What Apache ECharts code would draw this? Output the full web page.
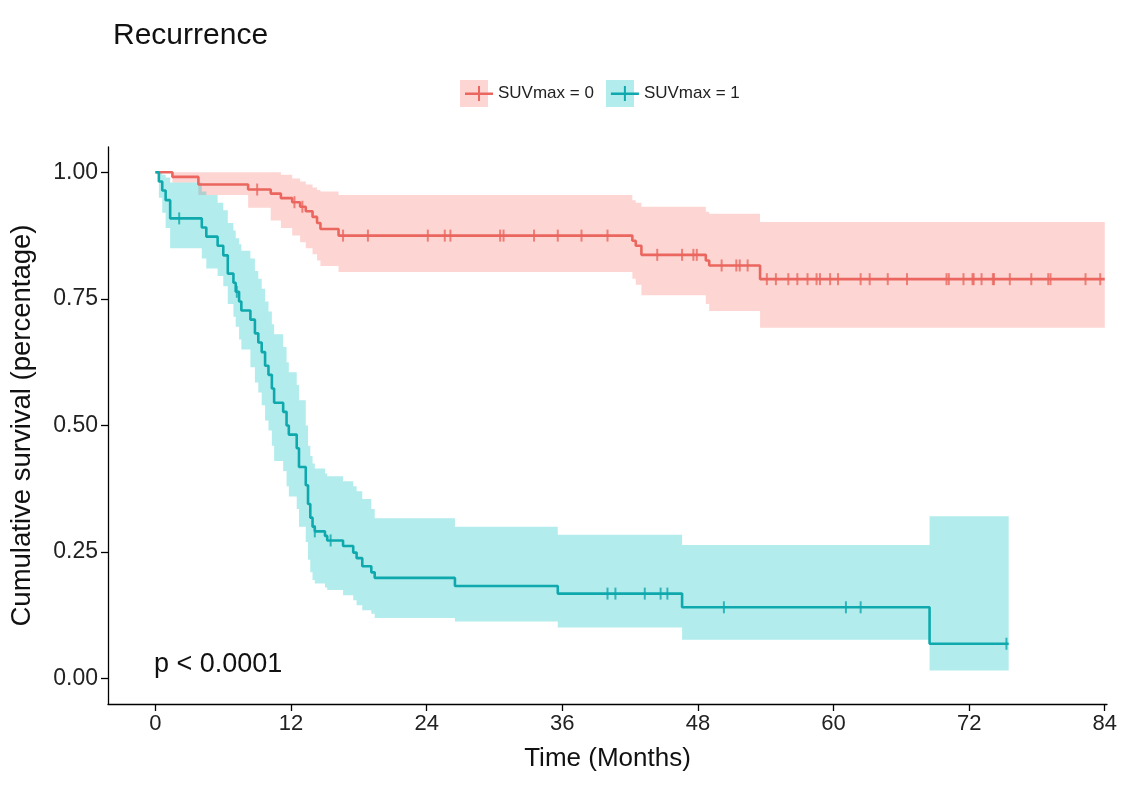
<!DOCTYPE html>
<html>
<head>
<meta charset="utf-8">
<script src="https://cdn.jsdelivr.net/npm/echarts@6/dist/echarts.min.js"></script>
<style>
  html, body { margin: 0; padding: 0; background: #fff; }
  #chart { width: 1129px; height: 788px; }
</style>
</head>
<body>
<div id="chart"></div>
<script>
const xTicks = [0, 12, 24, 36, 48, 60, 72, 84]
const yTicks = [0, 0.25, 0.5, 0.75, 1]
const groupNames = ['SUVmax = 0', 'SUVmax = 1']

// SUVmax = 0 : event times, survival after event, CI band
const lowTimes = [0, 1.5, 3.8, 8.2, 10.2, 11.1, 12.1, 12.8, 13.3, 13.9, 14.3, 14.6, 16.2, 42.2, 42.5, 43.0, 48.7, 49.0, 53.5, 84]
const lowSurv = [1, 0.991, 0.976, 0.966, 0.958, 0.949, 0.941, 0.932, 0.923, 0.912, 0.900, 0.888, 0.875, 0.865, 0.855, 0.837, 0.826, 0.816, 0.789, 0.789]
const lowUpper = [1, 1, 1, 1, 1, 0.995, 0.988, 0.982, 0.976, 0.970, 0.965, 0.962, 0.955, 0.945, 0.940, 0.932, 0.922, 0.918, 0.902, 0.902]
const lowLower = [1, 0.98, 0.955, 0.93, 0.905, 0.89, 0.875, 0.862, 0.85, 0.838, 0.826, 0.815, 0.803, 0.79, 0.778, 0.757, 0.74, 0.726, 0.693, 0.693]
const lowCensor = [9.0, 12.3, 13.0, 16.6, 18.8, 24.1, 25.6, 26.1, 30.5, 30.8, 33.5, 35.6, 37.7, 40.0, 44.4, 46.6, 47.6, 47.9,
  50.1, 51.4, 51.7, 52.4, 54.1, 54.9, 56.0, 56.8, 57.7, 58.5, 58.8, 59.7, 60.4, 62.4, 63.2, 64.8, 66.5, 70.0, 70.2,
  71.5, 72.3, 72.4, 73.1, 74.1, 74.2, 75.6, 77.5, 79.0, 79.2, 82.3, 83.6]

// SUVmax = 1
const highTimes = [0, 0.3, 0.6, 0.9, 1.3, 4.1, 4.5, 5.5, 6.0, 6.4, 6.9, 7.1, 7.4, 7.6, 8.4, 8.8, 9.1, 9.4, 9.7, 10.0, 10.3, 10.5,
  11.3, 11.6, 11.8, 12.5, 12.7, 13.3, 13.5, 13.7, 13.9, 14.1, 15.0, 15.2, 16.6, 17.5, 17.8, 18.3, 19.1, 19.4, 26.5, 35.6, 46.6, 68.5, 75.5]
const highSurv = [1, 0.982, 0.964, 0.945, 0.909, 0.891, 0.873, 0.855, 0.836, 0.800, 0.782, 0.764, 0.745, 0.727, 0.709, 0.682, 0.664, 0.645, 0.618, 0.600, 0.573, 0.545,
  0.527, 0.500, 0.482, 0.455, 0.418, 0.382, 0.345, 0.318, 0.300, 0.291, 0.282, 0.273, 0.262, 0.249, 0.238, 0.222, 0.210, 0.199, 0.183, 0.168, 0.141, 0.069, 0.069]
const highUpper = [1, 1, 0.995, 0.99, 0.98, 0.962, 0.955, 0.94, 0.925, 0.9, 0.885, 0.87, 0.858, 0.845, 0.83, 0.805, 0.79, 0.77, 0.745, 0.725, 0.70, 0.68,
  0.655, 0.625, 0.605, 0.58, 0.55, 0.50, 0.46, 0.44, 0.425, 0.415, 0.405, 0.40, 0.39, 0.38, 0.37, 0.355, 0.335, 0.317, 0.300, 0.284, 0.264, 0.321, 0.321]
const highLower = [1, 0.95, 0.92, 0.89, 0.85, 0.83, 0.81, 0.795, 0.775, 0.74, 0.715, 0.695, 0.67, 0.65, 0.615, 0.585, 0.565, 0.54, 0.51, 0.49, 0.46, 0.43,
  0.41, 0.38, 0.36, 0.335, 0.30, 0.27, 0.235, 0.21, 0.195, 0.188, 0.18, 0.175, 0.165, 0.155, 0.145, 0.135, 0.128, 0.12, 0.113, 0.101, 0.077, 0.016, 0.016]
const highCensor = [2.1, 7.2, 14.1, 15.5, 40.0, 40.7, 43.3, 44.7, 45.3, 50.3, 61.1, 62.4, 75.3]

const lineColors = ['#EA665F', '#0FA9AD']
const bandColors = ['rgba(248, 118, 109, 0.3)', 'rgba(0, 191, 196, 0.3)']
const textFont = 'Liberation Sans, Arial, sans-serif'

function survAt(times, surv, t) {
  let v = surv[0]
  for (let i = 0; i < times.length; i++) {
    if (times[i] <= t) v = surv[i]
  }
  return v
}

// confidence band as one stepped polygon, placed through the axes
function bandSeries(times, upper, lower, idx) {
  return {
    type: 'custom',
    silent: true,
    z: 1,
    data: [[times[0], upper[0]]],
    renderItem: (params, api) => {
      const top = []
      const bottom = []
      for (let i = 0; i < times.length; i++) {
        top.push(api.coord([times[i], upper[i]]))
        bottom.push(api.coord([times[i], lower[i]]))
        if (i + 1 < times.length) {
          top.push(api.coord([times[i + 1], upper[i]]))
          bottom.push(api.coord([times[i + 1], lower[i]]))
        }
      }
      return {
        type: 'polygon',
        shape: { points: top.concat(bottom.reverse()) },
        style: { fill: bandColors[idx] }
      }
    }
  }
}

function curveSeries(times, surv, idx) {
  return {
    name: groupNames[idx],
    type: 'line',
    step: 'end',
    symbol: 'none',
    z: 3,
    color: lineColors[idx],
    lineStyle: { color: lineColors[idx], width: 2.6 },
    data: times.map((t, i) => [t, surv[i]])
  }
}

function censorSeries(times, surv, censor, idx) {
  return {
    type: 'scatter',
    symbol: 'rect',
    symbolSize: [2, 12],
    z: 4,
    silent: true,
    itemStyle: { color: lineColors[idx] },
    data: censor.map((t) => [t, survAt(times, surv, t)])
  }
}

const legendIcon = 'path://M0,12.5h28v2.6h-28z M13,6h2v15h-2z'

const chart = echarts.init(document.getElementById('chart'), null, { renderer: 'canvas' })

chart.setOption({
  animation: false,
  backgroundColor: '#fff',
  textStyle: { fontFamily: textFont },
  title: {
    text: 'Recurrence',
    left: 108,
    top: 16,
    textStyle: { fontFamily: textFont, fontSize: 30, fontWeight: 'normal', color: '#111' }
  },
  legend: {
    data: groupNames.map((name) => ({ name, icon: legendIcon })),
    left: 460,
    top: 80,
    itemWidth: 28,
    itemHeight: 27,
    itemGap: 17,
    selectedMode: false,
    textStyle: { fontFamily: textFont, fontSize: 17, color: '#222' }
  },
  graphic: [
    { type: 'rect', left: 460, top: 80, z: -1, shape: { width: 28, height: 27 }, style: { fill: bandColors[0] } },
    { type: 'rect', left: 606, top: 80, z: -1, shape: { width: 28, height: 27 }, style: { fill: bandColors[1] } },
    {
      type: 'text',
      left: 154,
      top: 651,
      style: { text: 'p < 0.0001', fontFamily: textFont, fontSize: 27, fill: '#111' }
    }
  ],
  grid: {
    left: 107,
    right: 22,
    top: 147,
    bottom: 84
  },
  xAxis: {
    type: 'value',
    min: -4.2,
    max: 84.2,
    name: 'Time (Months)',
    nameLocation: 'middle',
    nameGap: 42,
    nameTextStyle: { fontFamily: textFont, fontSize: 26, color: '#111' },
    axisLine: { onZero: false, lineStyle: { color: '#000', width: 1.3 } },
    axisTick: { customValues: xTicks, length: 7, lineStyle: { color: '#000', width: 1.3 } },
    axisLabel: { customValues: xTicks, fontFamily: textFont, fontSize: 22, color: '#222', margin: 9 },
    splitLine: { show: false }
  },
  yAxis: {
    type: 'value',
    min: -0.05,
    max: 1.05,
    name: 'Cumulative survival (percentage)',
    nameLocation: 'middle',
    nameGap: 72,
    nameTextStyle: { fontFamily: textFont, fontSize: 27.5, color: '#111' },
    axisLine: { show: true, onZero: false, lineStyle: { color: '#000', width: 1.3 } },
    axisTick: { show: true, customValues: yTicks, length: 7, lineStyle: { color: '#000', width: 1.3 } },
    axisLabel: {
      customValues: yTicks,
      fontFamily: textFont,
      fontSize: 23,
      color: '#222',
      margin: 10,
      formatter: (v) => v.toFixed(2)
    },
    splitLine: { show: false }
  },
  series: [
    bandSeries(lowTimes, lowUpper, lowLower, 0),
    bandSeries(highTimes, highUpper, highLower, 1),
    curveSeries(lowTimes, lowSurv, 0),
    curveSeries(highTimes, highSurv, 1),
    censorSeries(lowTimes, lowSurv, lowCensor, 0),
    censorSeries(highTimes, highSurv, highCensor, 1)
  ]
})

window.addEventListener('resize', () => chart.resize())
</script>
</body>
</html>
